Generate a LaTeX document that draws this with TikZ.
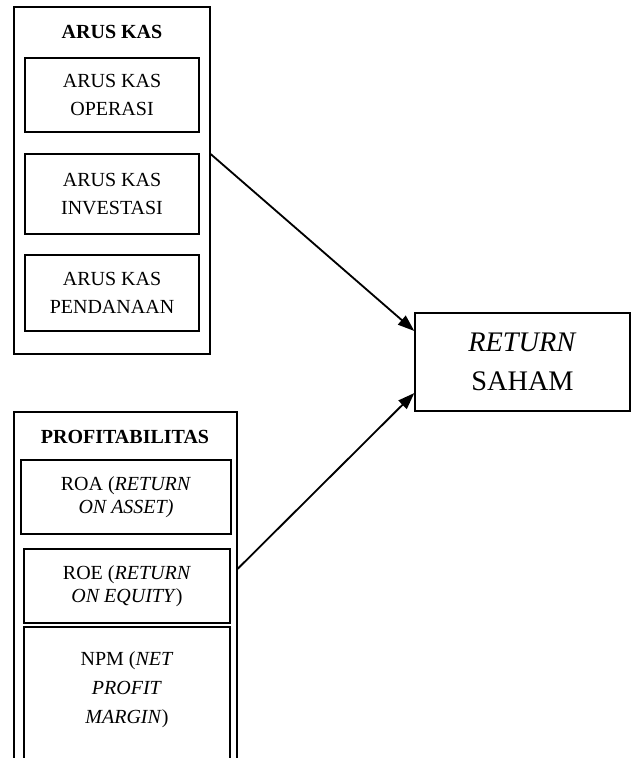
\documentclass[tikz,border=0pt]{standalone}
\usepackage{fontspec}
\setmainfont{Liberation Serif}
\usetikzlibrary{arrows.meta, positioning}

\begin{document}
\begin{tikzpicture}[
      x=0.6pt, y=-0.6pt, >={Triangle[length=10pt,width=7pt]},
      box/.style={draw, line width=0.8pt, inner sep=0pt, align=center,
        font=\fontsize{12pt}{17pt}\selectfont},
      inbox/.style={box, minimum width=104.4pt},
      small/.style={font=\fontsize{12pt}{14pt}\selectfont},
      head/.style={font=\fontsize{12pt}{17pt}\selectfont\bfseries},
      link/.style={->, line width=1.1pt},
      ]
      \useasboundingbox (0,0) rectangle (633,758);
      \clip (0,0) rectangle (633,758);

      % arus kas
      \node[box, minimum width=117.6pt, minimum height=208.2pt] at (112,180.5) (aruskas) {};
      \node[head] at (112,32) (akhead) {ARUS KAS};
      \node[inbox, minimum height=44.4pt] at (112,95)  (operasi)   {ARUS KAS\\OPERASI};
      \node[inbox, minimum height=48pt]   at (112,194) (investasi) {ARUS KAS\\INVESTASI};
      \node[inbox, minimum height=45.6pt] at (112,293) (pendanaan) {ARUS KAS\\PENDANAAN};

      % profitabilitas
      \node[box, minimum width=133.8pt, minimum height=226.8pt] at (125.5,601) (profit) {};
      \node[head] at (125,437) (prhead) {PROFITABILITAS};
      \node[box, small, minimum width=126pt, minimum height=44.4pt] at (126,497) (roa)
            {ROA (\textit{RETURN}\\\textit{ON ASSET)}};
      \node[box, small, minimum width=123.6pt, minimum height=44.4pt] at (127,586) (roe)
            {ROE (\textit{RETURN}\\\textit{ON EQUITY})};
      \node[box, font=\fontsize{12pt}{17.4pt}\selectfont, minimum width=123.6pt,
            minimum height=90.6pt] at (127,702.5) (npm)
            {NPM (\textit{NET}\\\textit{PROFIT}\\\textit{MARGIN})\\~};

      % return saham
      \node[box, font=\fontsize{17pt}{23pt}\selectfont, minimum width=129pt,
            minimum height=58.8pt] at (522.5,362) (saham) {\textit{RETURN}\\SAHAM};

      \draw[link] (aruskas.15) -- (saham.164);
      \draw[link] (profit.16.5) -- (saham.196);
    \end{tikzpicture}
\end{document}
